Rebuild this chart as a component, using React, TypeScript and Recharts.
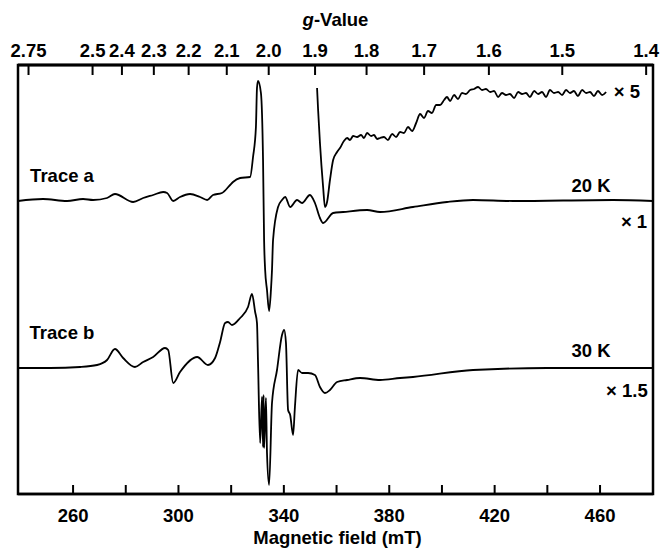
import React from 'react';
import { ComposedChart, Line, XAxis, YAxis, ReferenceArea, ReferenceDot, ReferenceLine, Label } from 'recharts';

const FONT = '"Liberation Sans", Arial, Helvetica, sans-serif';

// magnetic field ticks (mT), every 20 with a label every 40
const fieldTicks = [260, 280, 300, 320, 340, 360, 380, 400, 420, 440, 460];
const fieldLabels = [260, 300, 340, 380, 420, 460];

// g-value ticks on the top axis
const gLabels = ['2.75', '2.5', '2.4', '2.3', '2.2', '2.1', '2.0', '1.9', '1.8', '1.7', '1.6', '1.5', '1.4'];
const G_TIMES_B = 668.5; // g * B (mT) at the microwave frequency used

// [field mT, intensity (arb. units, offset)]
const traceA: [number, number][] = [
  [239.1, 293], [248.6, 295], [257.7, 293], [263.8, 295], [267.6, 294], [272.9, 296], [275.9, 300],
  [282.8, 292], [286.6, 296], [290.4, 299], [294.2, 302], [295.7, 301], [298.0, 293], [300.6, 297],
  [304.4, 300], [308.2, 297], [310.9, 294], [313.1, 299], [316.5, 301], [319.6, 309], [320.7, 312],
  [323.4, 316], [327.2, 317], [328.3, 337], [329.4, 367], [329.8, 406], [330.2, 413], [331.3, 401],
  [332.1, 334], [332.5, 254], [332.9, 224], [333.6, 204], [334.4, 183], [335.1, 204], [335.5, 224],
  [335.9, 254], [337.8, 287], [339.3, 294], [340.5, 297], [342.4, 287], [345.0, 294], [346.9, 291],
  [349.9, 299], [351.8, 291], [353.7, 276], [354.9, 271], [358.7, 281], [362.5, 282], [371.6, 284],
  [376.5, 282], [389.0, 287], [401.9, 292], [411.8, 294], [427.0, 293], [464.9, 294], [480.1, 293],
];

const traceA5: [number, number][] = [
  [352.6, 406], [353.0, 384], [353.7, 351], [354.9, 307], [355.6, 287], [356.4, 292], [357.5, 314],
  [358.7, 334], [360.2, 342], [361.3, 346], [362.8, 353], [364.0, 356], [365.1, 354], [366.3, 358],
  [367.8, 357], [369.3, 359], [370.4, 356], [371.6, 361], [373.1, 358], [374.2, 359], [375.4, 355],
  [376.5, 356], [378.0, 357], [379.5, 354], [381.1, 360], [382.6, 357], [384.1, 362], [385.6, 361],
  [387.1, 367], [388.7, 363], [390.2, 371], [391.7, 380], [393.2, 376], [394.7, 383], [396.2, 381],
  [397.8, 389], [399.3, 389], [400.8, 394], [401.9, 397], [403.1, 393], [404.6, 399], [406.1, 395],
  [407.6, 401], [409.1, 400], [410.7, 404], [412.2, 405], [413.7, 407], [415.2, 404], [416.7, 405],
  [418.3, 402], [419.8, 403], [421.3, 397], [422.8, 401], [424.3, 399], [425.8, 400], [427.4, 396],
  [428.9, 402], [430.4, 400], [431.9, 401], [433.4, 397], [435.0, 403], [436.5, 400], [438.0, 402],
  [439.5, 397], [441.0, 404], [442.5, 401], [444.1, 402], [445.6, 399], [447.1, 404], [448.6, 401],
  [450.1, 403], [451.6, 398], [453.2, 404], [454.7, 401], [456.2, 402], [457.7, 398], [459.2, 403],
  [460.8, 399], [462.3, 402],
];

const traceB: [number, number][] = [
  [239.1, 126], [251.3, 126], [262.7, 127], [269.1, 129], [272.9, 134], [275.9, 145], [279.0, 136],
  [283.5, 127], [286.6, 132], [290.4, 137], [294.9, 146], [296.1, 144], [298.0, 111], [300.6, 122],
  [307.1, 137], [311.2, 129], [313.9, 136], [315.8, 152], [317.7, 171], [318.8, 172], [320.3, 169],
  [323.4, 176], [326.4, 187], [327.9, 200], [329.1, 182], [329.8, 171], [330.2, 131], [331.0, 51],
  [331.7, 97], [332.1, 47], [332.3, 99], [332.5, 46], [333.2, 96], [333.6, 41], [334.4, 9],
  [335.5, 91], [337.4, 124], [339.3, 159], [340.1, 164], [340.8, 151], [341.6, 84], [342.4, 79],
  [343.5, 59], [344.2, 87], [345.4, 124], [346.9, 121], [349.2, 121], [351.8, 119], [353.7, 107],
  [355.6, 101], [357.5, 104], [360.2, 112], [364.0, 114], [368.9, 116], [376.5, 114], [384.1, 116],
  [389.0, 117], [411.8, 124], [439.9, 126], [480.1, 126],
];

const toPoints = (t: [number, number][]) => t.map(([B, I]) => ({ B, I }));

const textStyle = { fontFamily: FONT, fontWeight: 700, fontSize: 18.5, fill: '#000' };

const FieldTick = (props: any) => {
  const { x, y, payload } = props;
  const labeled = fieldLabels.includes(payload.value);
  return (
    <g>
      <line x1={x} x2={x} y1={y} y2={y - 9} stroke="#000" strokeWidth={2} />
      {labeled && (
        <text x={x} y={y + 28} textAnchor="middle" style={textStyle}>
          {payload.value}
        </text>
      )}
    </g>
  );
};

const GTick = (props: any) => {
  const { x, y, payload } = props;
  const g = G_TIMES_B / payload.value;
  const label = gLabels.find((s) => Math.abs(parseFloat(s) - g) < 0.001) ?? g.toFixed(1);
  return (
    <g>
      <line x1={x} x2={x} y1={y} y2={y + 10} stroke="#000" strokeWidth={2} />
      <text x={x} y={y - 8} textAnchor="middle" style={textStyle}>
        {label}
      </text>
    </g>
  );
};

const annotations = [
  { B: 255.8, I: 319, text: 'Trace a' },
  { B: 255.8, I: 162, text: 'Trace b' },
  { B: 456.6, I: 309, text: '20 K' },
  { B: 456.6, I: 144, text: '30 K' },
  { B: 470.2, I: 403, text: '× 5' },
  { B: 472.9, I: 273, text: '× 1' },
  { B: 470.2, I: 104, text: '× 1.5' },
];

export default function App() {
  const gTickFields = gLabels.map((s) => G_TIMES_B / parseFloat(s));
  return (
    <div style={{ position: 'absolute', left: 0, top: 0, width: 660, height: 548, background: '#fff' }}>
      <ComposedChart width={660} height={548} margin={{ top: 0, right: 7, bottom: 0, left: 18 }}>
        <XAxis
          xAxisId="b"
          orientation="bottom"
          type="number"
          dataKey="B"
          domain={[239.1, 480.1]}
          allowDataOverflow
          ticks={fieldTicks}
          interval={0}
          height={54}
          axisLine={{ stroke: '#000', strokeWidth: 2.5 }}
          tickLine={false}
          tickSize={0}
          tickMargin={0}
          tick={<FieldTick />}
          label={
            <Label
              content={(p: any) => {
                const vb = p.viewBox;
                return (
                  <text x={vb.x + vb.width / 2 + 2} y={vb.y + 50} textAnchor="middle" style={textStyle}>
                    Magnetic field (mT)
                  </text>
                );
              }}
            />
          }
        />
        <XAxis
          xAxisId="g"
          orientation="top"
          type="number"
          dataKey="B"
          domain={[239.1, 480.1]}
          allowDataOverflow
          ticks={gTickFields}
          interval={0}
          height={65}
          axisLine={{ stroke: '#000', strokeWidth: 2.5 }}
          tickLine={false}
          tickSize={0}
          tickMargin={0}
          tick={<GTick />}
          label={
            <Label
              content={(p: any) => {
                const vb = p.viewBox;
                return (
                  <text x={vb.x + vb.width / 2} y={vb.y + 26} textAnchor="middle" style={textStyle}>
                    <tspan fontStyle="italic">g</tspan>-Value
                  </text>
                );
              }}
            />
          }
        />
        <YAxis hide type="number" domain={[0, 429]} allowDataOverflow />
        <ReferenceArea
          xAxisId="b"
          x1={239.1}
          x2={480.1}
          y1={0}
          y2={429}
          fill="none"
          stroke="#000"
          strokeWidth={2.5}
          ifOverflow="visible"
        />
        <ReferenceLine xAxisId="b" y={429} stroke="#000" strokeWidth={2.5} ifOverflow="visible" />
        <Line
          xAxisId="b"
          data={toPoints(traceA)}
          dataKey="I"
          type="monotone"
          stroke="#000"
          strokeWidth={1.8}
          dot={false}
          isAnimationActive={false}
        />
        <Line
          xAxisId="b"
          data={toPoints(traceA5)}
          dataKey="I"
          type="monotone"
          stroke="#000"
          strokeWidth={1.8}
          dot={false}
          isAnimationActive={false}
        />
        <Line
          xAxisId="g"
          data={toPoints(traceB)}
          dataKey="I"
          type="monotone"
          stroke="#000"
          strokeWidth={1.8}
          dot={false}
          isAnimationActive={false}
        />
        {annotations.map((a) => (
          <ReferenceDot
            key={a.text}
            xAxisId="b"
            x={a.B}
            y={a.I}
            r={0}
            fill="none"
            stroke="none"
            ifOverflow="visible"
            label={{ value: a.text, position: 'center', ...textStyle }}
          />
        ))}
      </ComposedChart>
    </div>
  );
}
